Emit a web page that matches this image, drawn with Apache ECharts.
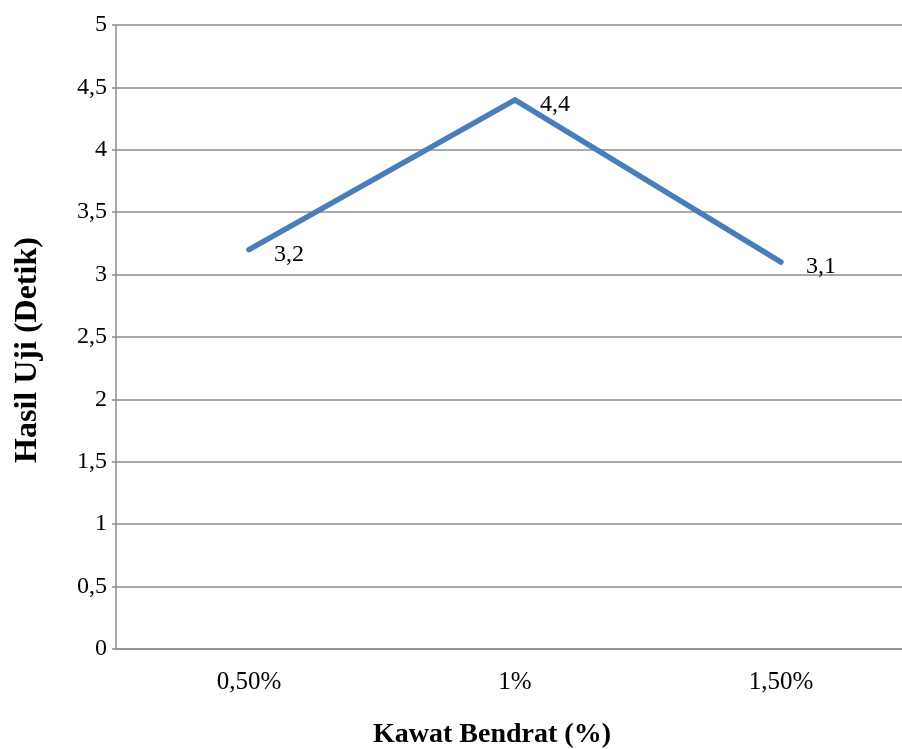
<!DOCTYPE html>
<html>
<head>
<meta charset="utf-8">
<script src="https://cdn.jsdelivr.net/npm/echarts@6/dist/echarts.min.js"></script>
<style>
html,body{margin:0;padding:0;background:#fff;overflow:hidden;width:902px;height:749px;}
#chart{width:930px;height:749px;}
</style>
</head>
<body>
<div id="chart"></div>
<script>
var categories = ['0,50%', '1%', '1,50%'];
var values = [3.2, 4.4, 3.1];
var yTicks = [0, 0.5, 1, 1.5, 2, 2.5, 3, 3.5, 4, 4.5, 5];
var xTitle = 'Kawat Bendrat (%)';
var yTitle = 'Hasil Uji (Detik)';

var FONT = '"Liberation Serif", "Times New Roman", serif';
var chart = echarts.init(document.getElementById('chart'), null, {renderer: 'canvas'});
function fmt(v) { return String(v).replace('.', ','); }
chart.setOption({
  animation: false,
  backgroundColor: '#fff',
  grid: {left: 116, top: 25, width: 798, height: 624, containLabel: false},
  xAxis: {
    type: 'category',
    data: categories,
    boundaryGap: true,
    axisLine: {show: true, lineStyle: {color: '#8c8c8c', width: 1.5}},
    axisTick: {show: false},
    axisLabel: {color: '#000', fontFamily: FONT, fontSize: 25, margin: 21},
    splitLine: {show: false}
  },
  yAxis: {
    type: 'value',
    min: yTicks[0],
    max: yTicks[yTicks.length - 1],
    interval: yTicks[1] - yTicks[0],
    axisLine: {show: true, lineStyle: {color: '#8c8c8c', width: 1.5}},
    axisTick: {show: true, length: 4, lineStyle: {color: '#8c8c8c', width: 1.5}},
    axisLabel: {color: '#000', fontFamily: FONT, fontSize: 24, margin: 9, formatter: fmt},
    splitLine: {show: true, lineStyle: {color: '#8c8c8c', width: 1.5}}
  },
  series: [{
    type: 'line',
    data: values,
    symbol: 'circle',
    symbolSize: 2,
    itemStyle: {color: 'rgba(0,0,0,0)', borderWidth: 0},
    lineStyle: {color: '#4a7ebb', width: 5.5, cap: 'round', join: 'miter'},
    label: {
      show: true,
      position: 'right',
      distance: 24,
      offset: [0, 5],
      color: '#000',
      fontFamily: FONT,
      fontSize: 24,
      formatter: function (p) { return fmt(p.value); }
    }
  }],
  graphic: [
    {type: 'text', x: 492, y: 735, style: {text: xTitle, font: 'bold 28px ' + FONT, fill: '#000', textAlign: 'center', textVerticalAlign: 'middle'}},
    {type: 'text', x: 28, y: 350, rotation: Math.PI / 2, style: {text: yTitle, font: 'bold 32px ' + FONT, fill: '#000', textAlign: 'center', textVerticalAlign: 'middle'}}
  ]
});
</script>
</body>
</html>
